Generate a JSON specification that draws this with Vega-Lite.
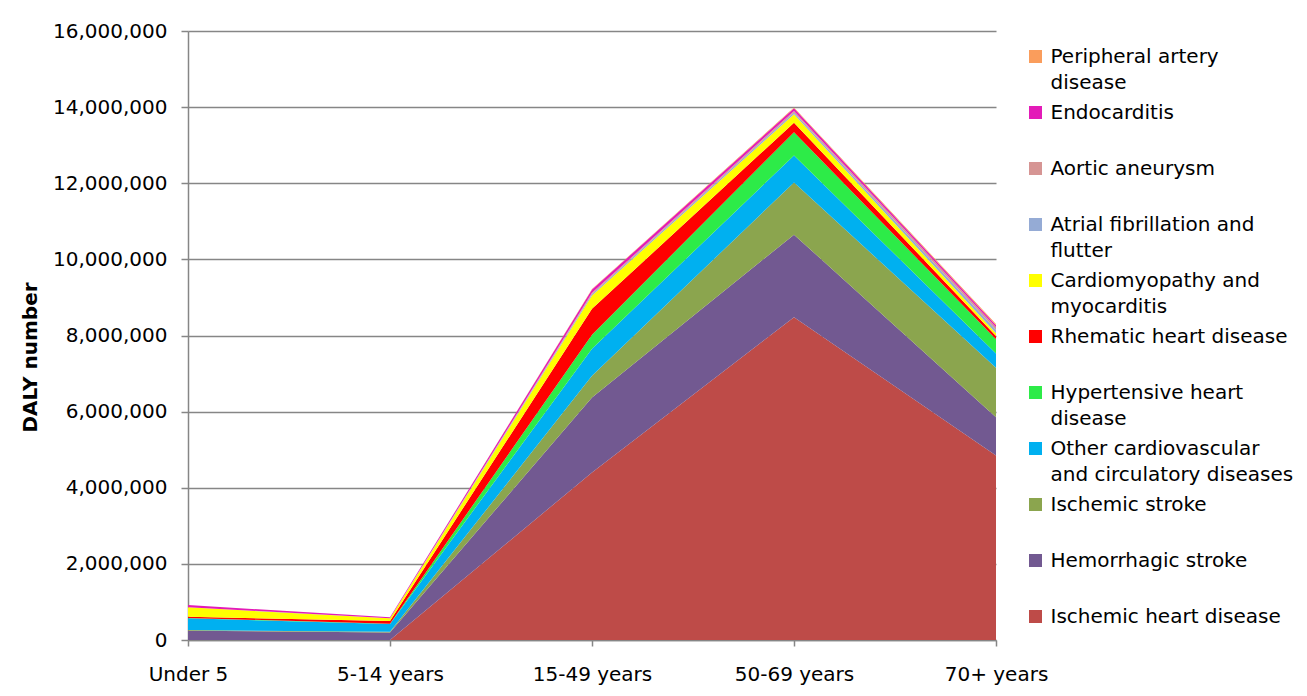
{
  "$schema": "https://vega.github.io/schema/vega-lite/v6.json",
  "width": 808,
  "height": 609,
  "autosize": {"type": "none"},
  "padding": {"left": 188, "top": 31, "right": 311, "bottom": 56},
  "background": "white",
  "config": {
    "font": "DejaVu Sans",
    "view": {"stroke": null},
    "style": {"guide-label": {"lineHeight": 26}}
  },
  "data": {
    "values": [
      {"age": "Under 5", "cause": "Ischemic heart disease", "daly": 0},
      {"age": "5-14 years", "cause": "Ischemic heart disease", "daly": 0},
      {"age": "15-49 years", "cause": "Ischemic heart disease", "daly": 4400000},
      {"age": "50-69 years", "cause": "Ischemic heart disease", "daly": 8480000},
      {"age": "70+ years", "cause": "Ischemic heart disease", "daly": 4850000},
      {"age": "Under 5", "cause": "Hemorrhagic stroke", "daly": 245000},
      {"age": "5-14 years", "cause": "Hemorrhagic stroke", "daly": 200000},
      {"age": "15-49 years", "cause": "Hemorrhagic stroke", "daly": 1970000},
      {"age": "50-69 years", "cause": "Hemorrhagic stroke", "daly": 2170000},
      {"age": "70+ years", "cause": "Hemorrhagic stroke", "daly": 1000000},
      {"age": "Under 5", "cause": "Ischemic stroke", "daly": 15000},
      {"age": "5-14 years", "cause": "Ischemic stroke", "daly": 15000},
      {"age": "15-49 years", "cause": "Ischemic stroke", "daly": 570000},
      {"age": "50-69 years", "cause": "Ischemic stroke", "daly": 1370000},
      {"age": "70+ years", "cause": "Ischemic stroke", "daly": 1300000},
      {"age": "Under 5", "cause": "Other cardiovascular and circulatory diseases", "daly": 310000},
      {"age": "5-14 years", "cause": "Other cardiovascular and circulatory diseases", "daly": 205000},
      {"age": "15-49 years", "cause": "Other cardiovascular and circulatory diseases", "daly": 710000},
      {"age": "50-69 years", "cause": "Other cardiovascular and circulatory diseases", "daly": 710000},
      {"age": "70+ years", "cause": "Other cardiovascular and circulatory diseases", "daly": 380000},
      {"age": "Under 5", "cause": "Hypertensive heart disease", "daly": 8000},
      {"age": "5-14 years", "cause": "Hypertensive heart disease", "daly": 10000},
      {"age": "15-49 years", "cause": "Hypertensive heart disease", "daly": 370000},
      {"age": "50-69 years", "cause": "Hypertensive heart disease", "daly": 610000},
      {"age": "70+ years", "cause": "Hypertensive heart disease", "daly": 370000},
      {"age": "Under 5", "cause": "Rhematic heart disease", "daly": 30000},
      {"age": "5-14 years", "cause": "Rhematic heart disease", "daly": 70000},
      {"age": "15-49 years", "cause": "Rhematic heart disease", "daly": 680000},
      {"age": "50-69 years", "cause": "Rhematic heart disease", "daly": 250000},
      {"age": "70+ years", "cause": "Rhematic heart disease", "daly": 90000},
      {"age": "Under 5", "cause": "Cardiomyopathy and myocarditis", "daly": 250000},
      {"age": "5-14 years", "cause": "Cardiomyopathy and myocarditis", "daly": 70000},
      {"age": "15-49 years", "cause": "Cardiomyopathy and myocarditis", "daly": 350000},
      {"age": "50-69 years", "cause": "Cardiomyopathy and myocarditis", "daly": 220000},
      {"age": "70+ years", "cause": "Cardiomyopathy and myocarditis", "daly": 70000},
      {"age": "Under 5", "cause": "Atrial fibrillation and flutter", "daly": 2000},
      {"age": "5-14 years", "cause": "Atrial fibrillation and flutter", "daly": 2000},
      {"age": "15-49 years", "cause": "Atrial fibrillation and flutter", "daly": 40000},
      {"age": "50-69 years", "cause": "Atrial fibrillation and flutter", "daly": 50000},
      {"age": "70+ years", "cause": "Atrial fibrillation and flutter", "daly": 90000},
      {"age": "Under 5", "cause": "Aortic aneurysm", "daly": 2000},
      {"age": "5-14 years", "cause": "Aortic aneurysm", "daly": 2000},
      {"age": "15-49 years", "cause": "Aortic aneurysm", "daly": 30000},
      {"age": "50-69 years", "cause": "Aortic aneurysm", "daly": 40000},
      {"age": "70+ years", "cause": "Aortic aneurysm", "daly": 70000},
      {"age": "Under 5", "cause": "Endocarditis", "daly": 55000},
      {"age": "5-14 years", "cause": "Endocarditis", "daly": 25000},
      {"age": "15-49 years", "cause": "Endocarditis", "daly": 90000},
      {"age": "50-69 years", "cause": "Endocarditis", "daly": 70000},
      {"age": "70+ years", "cause": "Endocarditis", "daly": 50000},
      {"age": "Under 5", "cause": "Peripheral artery disease", "daly": 1000},
      {"age": "5-14 years", "cause": "Peripheral artery disease", "daly": 1000},
      {"age": "15-49 years", "cause": "Peripheral artery disease", "daly": 10000},
      {"age": "50-69 years", "cause": "Peripheral artery disease", "daly": 20000},
      {"age": "70+ years", "cause": "Peripheral artery disease", "daly": 30000}
    ]
  },
  "transform": [
    {"calculate": "indexof(['Peripheral artery disease','Endocarditis','Aortic aneurysm','Atrial fibrillation and flutter','Cardiomyopathy and myocarditis','Rhematic heart disease','Hypertensive heart disease','Other cardiovascular and circulatory diseases','Ischemic stroke','Hemorrhagic stroke','Ischemic heart disease'], datum.cause)", "as": "k"}
  ],
  "mark": {"type": "area", "opacity": 1},
  "encoding": {
    "x": {
      "field": "age",
      "type": "ordinal",
      "sort": ["Under 5", "5-14 years", "15-49 years", "50-69 years", "70+ years"],
      "scale": {"type": "point", "padding": 0},
      "axis": {
        "title": null,
        "labelAngle": 0,
        "labelFont": "DejaVu Sans",
        "labelFontSize": 20,
        "labelColor": "#000000",
        "labelPadding": 18,
        "tickSize": 6,
        "tickColor": "#868686",
        "domainColor": "#868686",
        "domainWidth": 1.5,
        "tickWidth": 1.5,
        "grid": false
      }
    },
    "y": {
      "field": "daly",
      "type": "quantitative",
      "stack": "zero",
      "scale": {"domain": [0, 16000000], "nice": false},
      "axis": {
        "title": "DALY number",
        "titleFont": "DejaVu Sans",
        "titleFontSize": 20,
        "titleFontWeight": "bold",
        "titleColor": "#000000",
        "titleAngle": -90,
        "titleX": -158,
        "titleY": 326,
        "titleBaseline": "middle",
        "titleAlign": "center",
        "values": [0, 2000000, 4000000, 6000000, 8000000, 10000000, 12000000, 14000000, 16000000],
        "format": ",d",
        "labelFont": "DejaVu Sans",
        "labelFontSize": 20,
        "labelColor": "#000000",
        "labelPadding": 14,
        "tickSize": 7,
        "tickColor": "#868686",
        "domainColor": "#868686",
        "domainWidth": 1.5,
        "tickWidth": 1.5,
        "grid": true,
        "gridColor": "#868686",
        "gridWidth": 1.5
      }
    },
    "color": {
      "field": "cause",
      "type": "nominal",
      "scale": {
        "domain": ["Peripheral artery disease", "Endocarditis", "Aortic aneurysm", "Atrial fibrillation and flutter", "Cardiomyopathy and myocarditis", "Rhematic heart disease", "Hypertensive heart disease", "Other cardiovascular and circulatory diseases", "Ischemic stroke", "Hemorrhagic stroke", "Ischemic heart disease"],
        "range": ["#FA9D5C", "#E31BB8", "#D69594", "#95ABD5", "#FFFF00", "#FF0000", "#2DEB48", "#00B0F0", "#8BA54E", "#725991", "#BE4B48"]
      },
      "legend": {
        "title": null,
        "orient": "none",
        "legendX": 837.5,
        "legendY": 6,
        "symbolType": "M-1,0.46H1V2.46H-1Z",
        "symbolSize": 169,
        "symbolStrokeWidth": 0,
        "labelFont": "DejaVu Sans",
        "labelFontSize": 20,
        "labelColor": "#000000",
        "labelLimit": 400,
        "labelOffset": 5,
        "labelBaseline": "top",
        "rowPadding": 0,
        "labelExpr": "datum.label == 'Peripheral artery disease' ? ['Peripheral artery','disease'] : datum.label == 'Atrial fibrillation and flutter' ? ['Atrial fibrillation and','flutter'] : datum.label == 'Cardiomyopathy and myocarditis' ? ['Cardiomyopathy and','myocarditis'] : datum.label == 'Hypertensive heart disease' ? ['Hypertensive heart','disease'] : datum.label == 'Other cardiovascular and circulatory diseases' ? ['Other cardiovascular','and circulatory diseases'] : [datum.label, '']"
      }
    },
    "order": {"field": "k", "type": "quantitative", "sort": "descending"}
  }
}
